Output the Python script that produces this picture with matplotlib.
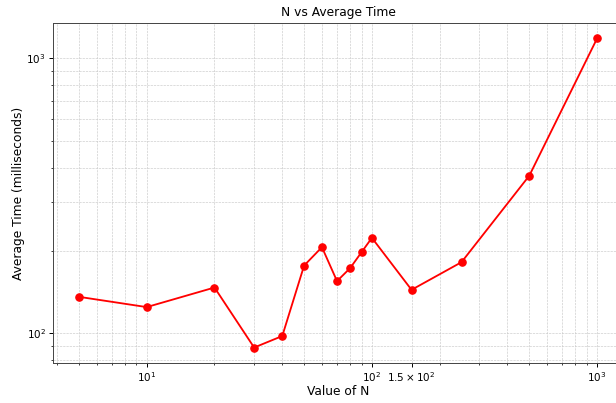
import matplotlib
matplotlib.use('Agg')
import matplotlib.pyplot as plt

# tamanhos de N testados e tempo medio (ms)
valores_n = [5, 10, 20, 30, 40, 50, 60, 70, 80, 90, 100, 150, 250, 500, 1000]
tempos_ms = [135.9, 124.7, 146.9, 88.9, 97.9, 176.5, 205.9, 155.0, 172.7,
             197.5, 222.6, 144.1, 181.6, 374.5, 1181.0]
ticks_x = [10, 100, 150, 1000]

fig = plt.figure(figsize=(7.0, 4.58), dpi=88)
ax = fig.add_axes([53 / 616, 40 / 403, 570 / 616, 340 / 403])

ax.plot(valores_n, tempos_ms, marker='o', color='red',
        linewidth=1.5, markersize=6)
ax.set_xscale('log')
ax.set_yscale('log')
ax.set_xticks(ticks_x)

ax.set_title("N vs Average Time", fontsize=10)
ax.set_xlabel("Value of N", fontsize=10, labelpad=1)
ax.set_ylabel("Average Time (milliseconds)", fontsize=10, labelpad=1)
ax.tick_params(labelsize=8.5, pad=2.5)
for spine in ax.spines.values():
    spine.set_color('#444444')
ax.grid(True, which='both', linestyle='--', linewidth=0.5, color='#c8c8c8')

plt.savefig('out.png', dpi=88)
plt.close()
